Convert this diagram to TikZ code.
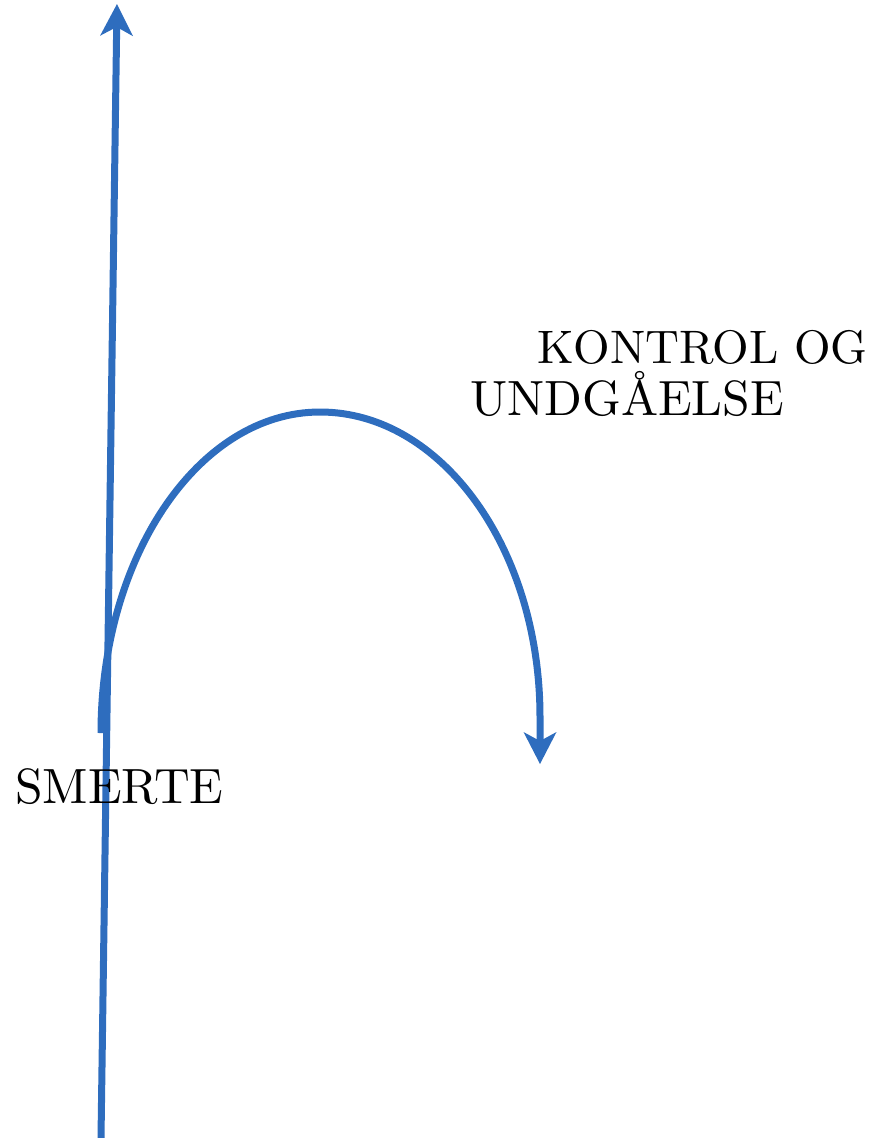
\documentclass[tikz,border=0pt]{standalone}
\usepackage{fontspec}
\setmainfont{lmroman10-regular}[Extension=.otf]
\usetikzlibrary{arrows.meta}
\definecolor{arrowblue}{RGB}{46,109,190}
\begin{document}
\begin{tikzpicture}[x=1pt,y=1pt,
  bluearrow/.style={draw=arrowblue, line width=7pt},
  bigtip/.tip={Stealth[length=32pt,width=33pt,inset=9pt,line width=0pt]},
  bigtext/.style={font=\fontsize{49.5}{52}\selectfont, inner sep=0pt, text=black}]
\useasboundingbox (0,0) rectangle (879,-1138);
% coordinates
\coordinate (vbot) at (101,-1138);
\coordinate (vtop) at (117,-4);
\coordinate (astart) at (101,-733);
\coordinate (apex) at (320,-412);
\coordinate (aend) at (540,-717);
\coordinate (atip) at (540,-764);
% vertical arrow
\draw[bluearrow, -{bigtip}] (vbot) -- (vtop);
% arc arrow
\draw[bluearrow, -{bigtip}] (astart) .. controls (101,-556) and (199,-412) .. (apex)
  .. controls (441.5,-412) and (540,-548.5) .. (aend) -- (atip);
% labels
\node[bigtext, font=\fontsize{47}{52}\selectfont, anchor=base east] (kontrol) at (868,-363) {KONTROL OG};
\node[bigtext, anchor=base west] (smerte) at (15,-803) {SMERTE};
\node[bigtext, anchor=base west] (undg) at (470,-415) {UNDGÅELSE};
\end{tikzpicture}
\end{document}
